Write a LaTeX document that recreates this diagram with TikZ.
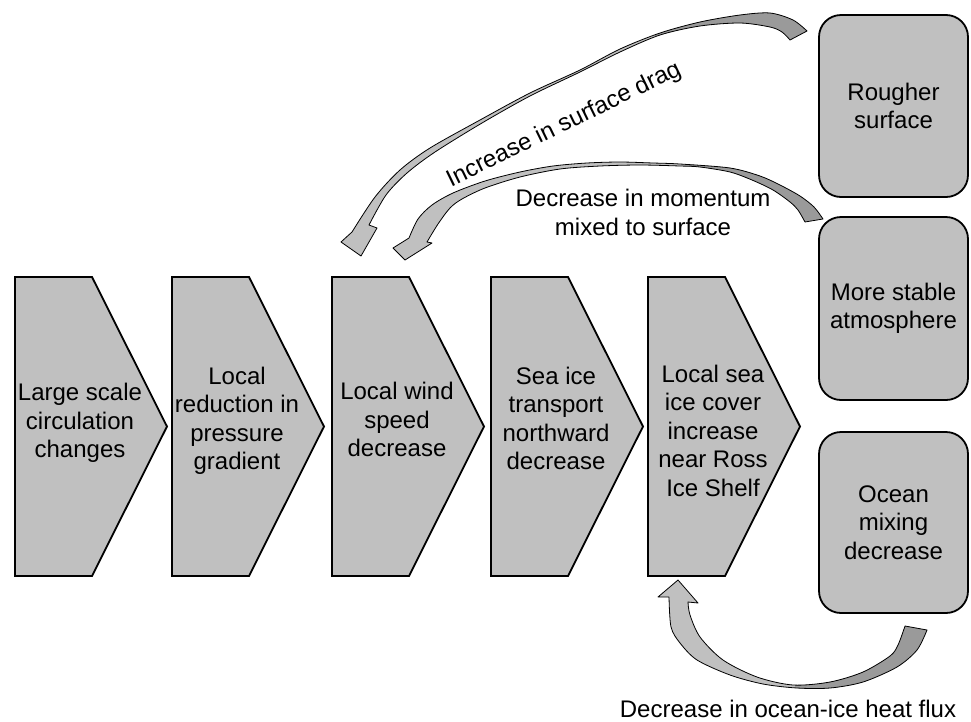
\documentclass[tikz,border=0pt]{standalone}
\usepackage{fontspec}
\setmainfont{Liberation Sans}
\definecolor{boxgray}{HTML}{C0C0C0}
\definecolor{backgray}{HTML}{9A9A9A}
\begin{document}
\begin{tikzpicture}[x=1pt,y=-1pt,
  chev/.style={fill=boxgray, draw=black, line width=1.8pt, line join=miter},
  rbox/.style={fill=boxgray, draw=black, line width=1.8pt, rounded corners=22pt,
    minimum width=149pt, inner sep=0pt, align=center,
    font=\fontsize{24}{28.5}\selectfont},
  txt/.style={inner sep=0pt, align=center, font=\fontsize{24}{28.5}\selectfont},
  arrline/.style={draw=black, line width=0.8pt, line join=round},
]
\useasboundingbox (0,0) rectangle (971,721);

% chevrons
\foreach \L in {15,172,332,491,648} {
  \path[chev] (\L,277) -- (\L+77,277) -- (\L+152,426.5) -- (\L+77,576) -- (\L,576) -- cycle;
}
\node[txt] (c1) at (80,423) {Large scale\\circulation\\changes};
\node[txt] (c2) at (237,421) {Local\\reduction in\\pressure\\gradient};
\node[txt] (c3) at (397,419.5) {Local wind\\speed\\decrease};
\node[txt] (c4) at (556,418.5) {Sea ice\\transport\\northward\\decrease};
\node[txt] (c5) at (713,430.5) {Local sea\\ice cover\\increase\\near Ross\\Ice Shelf};

% rounded boxes
\node[rbox, minimum height=182pt] (r1) at (893.5,106) {Rougher\\surface};
\node[rbox, minimum height=183pt] (r2) at (893.5,308.5) {More stable\\atmosphere};
\node[rbox, minimum height=181pt] (r3) at (893.5,522.5) {Ocean\\mixing\\decrease};

% curved arrow A: increase in surface drag
\path[save path=\arrA]
  plot[smooth] coordinates {(352,232) (375,197) (400,170) (430,148) (480,120) (530,93) (580,70) (620,49) (660,33) (700,22) (740,15) (770,13) (793,20) (807,31)}
  -- plot[smooth] coordinates {(790,40) (782,32) (770,27) (740,23) (700,26) (660,35) (620,52) (580,72) (530,96) (482,123) (435,152) (407,173) (386,195) (369,225)}
  -- (377,228) -- (361,256) -- (341,242) -- cycle;
\fill[boxgray, use path=\arrA];
\begin{scope}
  \clip (655,0) rectangle (815,50);
  \fill[backgray, use path=\arrA];
\end{scope}
\path[arrline, use path=\arrA];

% curved arrow B: decrease in momentum
\path[save path=\arrB]
  plot[smooth] coordinates {(409,238) (418,219) (432,205) (453,193) (485,181) (520,172) (553,166) (587,163) (620,162) (653,163) (680,164) (730,168) (760,176) (780,185) (800,196) (814,207) (823,219)}
  -- plot[smooth] coordinates {(805,222) (798,210) (790,202) (773,190) (752,180) (730,172) (700,167) (680,166) (640,165) (600,166) (560,169) (520,177) (485,188) (462,199) (450,208) (438,224) (427,242)}
  -- (432,243) -- (405,260) -- (393,248) -- cycle;
\fill[boxgray, use path=\arrB];
\begin{scope}
  \clip (685,150) rectangle (830,230);
  \fill[backgray, use path=\arrB];
\end{scope}
\path[arrline, use path=\arrB];

% curved arrow C: ocean-ice heat flux
\path[save path=\arrC]
  plot[smooth] coordinates {(669,597) (671,627) (680,643) (697,660) (730,675) (763,684) (797,688) (830,688) (863,682) (897,667) (917,650) (927,630)}
  -- plot[smooth] coordinates {(905,626) (898,645) (890,656) (863,672) (830,682) (793,685) (757,677) (723,660) (700,637) (690,615) (688,602)}
  -- (698,603) -- (678,580) -- (658,597) -- cycle;
\fill[boxgray, use path=\arrC];
\begin{scope}
  \clip (795,600) rectangle (940,700);
  \fill[backgray, use path=\arrC];
\end{scope}
\path[arrline, use path=\arrC];

% labels
\node[txt, rotate=26] (drag) at (564,125) {Increase in surface drag};
\node[txt] (mom) at (643,212.5) {Decrease in momentum\\mixed to surface};
\node[txt] (flux) at (788,709) {Decrease in ocean-ice heat flux};
\end{tikzpicture}
\end{document}
